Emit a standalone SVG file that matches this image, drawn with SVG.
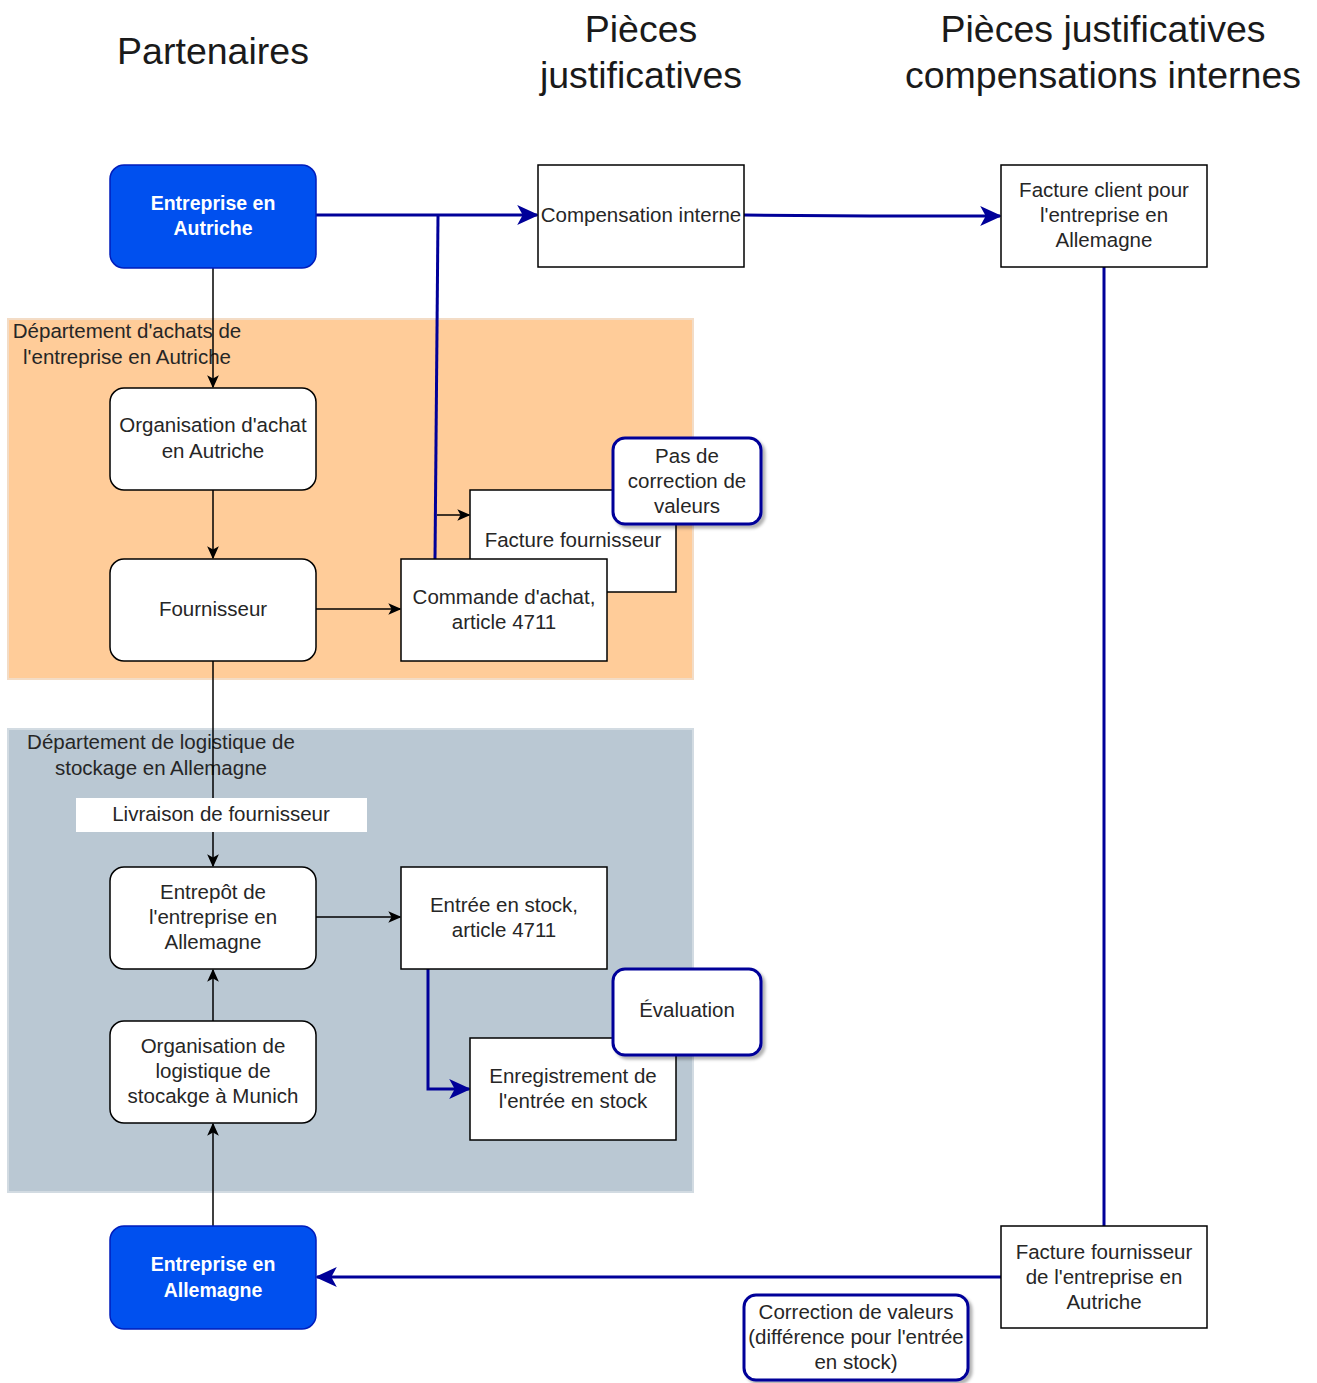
<svg xmlns="http://www.w3.org/2000/svg" width="1317" height="1383" viewBox="0 0 1317 1383">
<style>
text{font-family:"Liberation Sans",Arial,sans-serif;fill:#262626;font-size:20.5px;text-anchor:middle}
.title{font-size:37.5px;fill:#1a1a1a}
.box{fill:#fff;stroke:#000;stroke-width:1.5}
.blue{fill:#0050ef;stroke:#001dbc;stroke-width:1.5}
.wt{fill:#fff;font-weight:bold;font-size:19.5px}
.callout{fill:#fff;stroke:#000099;stroke-width:3}
.blk{stroke:#000;stroke-width:1.5;fill:none}
.bl{stroke:#000099;stroke-width:3;fill:none}
</style>
<defs>
<marker id="ab" viewBox="0 0 10 10" refX="9" refY="5" markerWidth="13" markerHeight="13" markerUnits="userSpaceOnUse" orient="auto">
<path d="M0,0.5 L10,5 L0,9.5 L2.5,5 z" fill="#000"/>
</marker>
<marker id="au" viewBox="0 0 10 10" refX="9" refY="5" markerWidth="22" markerHeight="22" markerUnits="userSpaceOnUse" orient="auto">
<path d="M0,0.5 L10,5 L0,9.5 L2.5,5 z" fill="#000099"/>
</marker>
<filter id="sh" x="-10%" y="-10%" width="130%" height="130%">
<feDropShadow dx="3" dy="3" stdDeviation="1.5" flood-color="#000" flood-opacity="0.3"/>
</filter>
</defs>
<rect width="1317" height="1383" fill="#fff"/>

<g id="titles">
<text class="title" x="213" y="64">Partenaires</text>
<text class="title" x="641" y="42">Pièces</text>
<text class="title" x="641" y="88">justificatives</text>
<text class="title" x="1103" y="42">Pièces justificatives</text>
<text class="title" x="1103" y="88">compensations internes</text>
</g>

<g id="dept-achats">
<rect x="8" y="319" width="685" height="360" fill="#ffcc99" stroke="#f3dcc6" stroke-width="2"/>
<text x="127" y="338">Département d'achats de</text>
<text x="127" y="364">l'entreprise en Autriche</text>
</g>
<g id="dept-logistique">
<rect x="8" y="729" width="685" height="463" fill="#bac8d3" stroke="#d2dbe2" stroke-width="2"/>
<text x="161" y="749">Département de logistique de</text>
<text x="161" y="775">stockage en Allemagne</text>
</g>

<g id="connectors">
<line class="blk" x1="213" y1="268" x2="213" y2="387" marker-end="url(#ab)"/>
<line class="blk" x1="213" y1="490" x2="213" y2="558" marker-end="url(#ab)"/>
<line class="blk" x1="316" y1="609" x2="400" y2="609" marker-end="url(#ab)"/>
<line class="blk" x1="213" y1="661" x2="213" y2="866" marker-end="url(#ab)"/>
<line class="blk" x1="316" y1="917" x2="400" y2="917" marker-end="url(#ab)"/>
<line class="blk" x1="213" y1="1021" x2="213" y2="970" marker-end="url(#ab)"/>
<line class="blk" x1="213" y1="1226" x2="213" y2="1124" marker-end="url(#ab)"/>
<line class="blk" x1="437" y1="515" x2="469" y2="515" marker-end="url(#ab)"/>
<line class="bl" x1="316" y1="215" x2="537" y2="215" marker-end="url(#au)"/>
<line class="bl" x1="438" y1="216" x2="435" y2="559"/>
<polyline class="bl" points="744,215 870,216 1000,216" marker-end="url(#au)"/>
<polyline class="bl" points="428,969 428,1089 469,1089" marker-end="url(#au)"/>
<line class="bl" x1="1104" y1="267" x2="1104" y2="1226"/>
<line class="bl" x1="1001" y1="1277" x2="317" y2="1277" marker-end="url(#au)"/>
</g>

<g id="n-entreprise-autriche">
<rect class="blue" x="110" y="165" width="206" height="103" rx="14"/>
<text class="wt" x="213" y="210">Entreprise en</text>
<text class="wt" x="213" y="235">Autriche</text>
</g>
<g id="n-compensation">
<rect class="box" x="538" y="165" width="206" height="102"/>
<text x="641" y="222">Compensation interne</text>
</g>
<g id="n-facture-client">
<rect class="box" x="1001" y="165" width="206" height="102"/>
<text x="1104" y="197">Facture client pour</text>
<text x="1104" y="222">l'entreprise en</text>
<text x="1104" y="247">Allemagne</text>
</g>
<g id="n-org-achat">
<rect class="box" x="110" y="388" width="206" height="102" rx="14"/>
<text x="213" y="432">Organisation d'achat</text>
<text x="213" y="458">en Autriche</text>
</g>
<g id="n-fournisseur">
<rect class="box" x="110" y="559" width="206" height="102" rx="14"/>
<text x="213" y="616">Fournisseur</text>
</g>
<g id="n-facture-fournisseur">
<rect class="box" x="470" y="490" width="206" height="102"/>
<text x="573" y="547">Facture fournisseur</text>
</g>
<g id="n-commande">
<rect class="box" x="401" y="559" width="206" height="102"/>
<text x="504" y="604">Commande d'achat,</text>
<text x="504" y="629">article 4711</text>
</g>
<g id="n-pas-correction">
<rect class="callout" x="613" y="438" width="148" height="86" rx="12" filter="url(#sh)"/>
<text x="687" y="463">Pas de</text>
<text x="687" y="488">correction de</text>
<text x="687" y="513">valeurs</text>
</g>
<g id="n-livraison">
<rect x="76" y="798" width="291" height="34" fill="#fff"/>
<text x="221" y="821">Livraison de fournisseur</text>
</g>
<g id="n-entrepot">
<rect class="box" x="110" y="867" width="206" height="102" rx="14"/>
<text x="213" y="899">Entrepôt de</text>
<text x="213" y="924">l'entreprise en</text>
<text x="213" y="949">Allemagne</text>
</g>
<g id="n-entree-stock">
<rect class="box" x="401" y="867" width="206" height="102"/>
<text x="504" y="912">Entrée en stock,</text>
<text x="504" y="937">article 4711</text>
</g>
<g id="n-org-logistique">
<rect class="box" x="110" y="1021" width="206" height="102" rx="14"/>
<text x="213" y="1053">Organisation de</text>
<text x="213" y="1078">logistique de</text>
<text x="213" y="1103">stocakge à Munich</text>
</g>
<g id="n-enregistrement">
<rect class="box" x="470" y="1038" width="206" height="102"/>
<text x="573" y="1083">Enregistrement de</text>
<text x="573" y="1108">l'entrée en stock</text>
</g>
<g id="n-evaluation">
<rect class="callout" x="613" y="969" width="148" height="86" rx="12" filter="url(#sh)"/>
<text x="687" y="1017">Évaluation</text>
</g>
<g id="n-entreprise-allemagne">
<rect class="blue" x="110" y="1226" width="206" height="103" rx="14"/>
<text class="wt" x="213" y="1271">Entreprise en</text>
<text class="wt" x="213" y="1297">Allemagne</text>
</g>
<g id="n-facture-fournisseur-autriche">
<rect class="box" x="1001" y="1226" width="206" height="102"/>
<text x="1104" y="1259">Facture fournisseur</text>
<text x="1104" y="1284">de l'entreprise en</text>
<text x="1104" y="1309">Autriche</text>
</g>
<g id="n-correction-valeurs">
<rect class="callout" x="744" y="1295" width="224" height="85" rx="12" filter="url(#sh)"/>
<text x="856" y="1319">Correction de valeurs</text>
<text x="856" y="1344">(différence pour l'entrée</text>
<text x="856" y="1369">en stock)</text>
</g>
</svg>
